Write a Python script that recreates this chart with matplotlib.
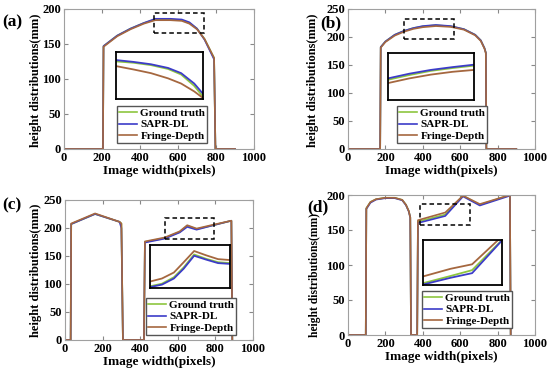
import matplotlib
matplotlib.use('Agg')
import matplotlib.pyplot as plt
from matplotlib.patches import Rectangle

plt.rcParams['font.family'] = ['Liberation Serif', 'DejaVu Serif']
plt.rcParams['font.weight'] = 'bold'

# ---- data ----
labels = ['Ground truth', 'SAPR-DL', 'Fringe-Depth']
colors = ['#8DC63F', '#3C3CC8', '#A5673F']

# (a)
xa = [0, 205, 208, 280, 350, 420, 480, 560, 620, 660, 700, 740, 790, 797, 900]
ya_gt = [0, 0, 147, 162, 172, 180, 185, 185, 184, 180, 172, 157, 130, 0, 0]
ya_sapr = [0, 0, 147, 162, 172, 180, 186, 186, 185, 181, 172, 156, 128, 0, 0]
ya_fd = [0, 0, 146, 161, 171, 179, 184, 184, 183, 179, 171, 157, 130, 0, 0]
za_x = [476, 528, 580, 631, 670, 709, 735]
za_gt = [188.4, 187.6, 186.2, 183.9, 180.6, 173.8, 167.4]
za_sapr = [189.2, 188.1, 186.7, 184.5, 181.4, 175.2, 169.1]
za_fd = [185.6, 183.6, 181.4, 178.3, 175.2, 170.5, 166.6]
box_a = (476, 735, 166, 194)

# (b)
xb = [0, 172, 175, 200, 250, 300, 350, 400, 470, 550, 620, 680, 710, 730, 737, 740, 900]
yb_gt = [0, 0, 182, 192, 204, 211, 216, 219, 221, 219, 214, 204, 194, 180, 172, 0, 0]
yb_sapr = [0, 0, 182, 192, 204, 211, 216, 219.5, 221.5, 219.5, 214, 204, 194, 180, 172, 0, 0]
yb_fd = [0, 0, 181, 191, 202.5, 209.5, 214.5, 217.5, 219.5, 218, 213, 203, 193, 179, 171, 0, 0]
zb_x = [300, 366, 432, 499, 565]
zb_gt = [212.1, 215.6, 218.7, 220.8, 222.6]
zb_sapr = [213.1, 216.6, 219.4, 221.5, 223.3]
zb_fd = [209.6, 213.1, 215.9, 218.0, 219.4]
box_b = (300, 565, 197, 232)

# (c)
xc = [0, 30, 33, 160, 290, 300, 308, 420, 425, 530, 610, 650, 700, 790, 885, 890]
yc_gt = [0, 0, 207, 225, 211, 208, 0, 0, 175, 182, 193, 204, 198, 205, 213, 0]
yc_sapr = [0, 0, 207, 225, 211, 200, 0, 0, 174, 181, 192, 202, 197, 205, 213, 0]
yc_fd = [0, 0, 208, 226, 211, 208, 0, 0, 176, 183, 194, 205, 199, 206, 213, 0]
zc_x = [532, 571, 610, 642, 676, 715, 754, 793]
zc_gt = [181.5, 183.8, 189.5, 198.2, 209.6, 205.8, 202.8, 202.0]
zc_sapr = [180.8, 183.0, 188.4, 197.1, 208.5, 205.1, 202.0, 201.3]
zc_fd = [185.7, 188.4, 193.7, 202.8, 212.7, 208.9, 205.5, 204.7]
box_c = (532, 793, 180, 218)

# (d)
xd = [0, 95, 98, 120, 150, 200, 250, 290, 310, 325, 333, 337, 370, 374, 520, 615, 705, 866, 870]
yd_gt = [0, 0, 181, 190, 194, 196, 196, 193, 186, 177, 168, 0, 0, 162, 172, 199, 186, 200, 0]
yd_sapr = [0, 0, 180, 189, 193.5, 195.5, 195.5, 192.5, 185.5, 176.5, 167.5, 0, 0, 160, 170, 198, 185, 199, 0]
yd_fd = [0, 0, 181, 190, 194, 196, 196, 193, 186, 177, 168, 0, 0, 164, 175, 199, 187, 200, 0]
zd_x = [385, 478, 551, 652]
zd_gt = [158.2, 163.0, 166.9, 187.0]
zd_sapr = [157.3, 161.8, 164.9, 186.7]
zd_fd = [162.7, 167.8, 170.8, 189.4]
box_d = (385, 652, 157, 187)

W, H = 550, 377
fig = plt.figure(figsize=(5.5, 3.77), dpi=100)


def px_axes(x0, x1, y0, y1):
    # pixel box (top-left origin) -> figure axes
    return fig.add_axes([x0 / W, 1 - y1 / H, (x1 - x0) / W, (y1 - y0) / H])


def panel(ax_px, ylim, yticks, x, ys, zx, zys, box, inset_px, leg_px, tag, tag_px, ylab_px, ylab_fs=9):
    ax = px_axes(*ax_px)
    for y, c, lab in zip(ys, colors, labels):
        ax.plot(x, y, color=c, lw=1.2, label=lab)
    ax.set_xlim(0, 1000)
    ax.set_ylim(*ylim)
    ax.set_xticks(range(0, 1001, 200))
    ax.set_yticks(yticks)
    ax.tick_params(direction='in', top=True, right=True, length=3,
                   color='#888888', labelsize=9, pad=2)
    for s in ax.spines.values():
        s.set_color('#A0A0A0')
        s.set_linewidth(0.8)
    ax.set_xlabel('Image width(pixels)', fontsize=9.5, fontweight='bold', labelpad=1)
    ax.set_ylabel('height distributions(mm)', fontsize=ylab_fs, fontweight='bold')
    ax.yaxis.set_label_coords(ylab_px[0] / W, 1 - ylab_px[1] / H, transform=fig.transFigure)
    # dashed zoom box
    ax.add_patch(Rectangle((box[0], box[2]), box[1] - box[0], box[3] - box[2],
                           fill=False, ls=(0, (3, 2)), lw=1.1, color='black', zorder=5))
    # legend
    ax.legend(loc='upper left', bbox_to_anchor=(leg_px[0] / W, 1 - leg_px[1] / H),
              bbox_transform=fig.transFigure, fontsize=8, frameon=True, fancybox=False,
              edgecolor='#555555', framealpha=1, borderpad=0.2, labelspacing=0.15,
              handlelength=1.6, handletextpad=0.3, borderaxespad=0)
    # inset
    ins = px_axes(*inset_px)
    for y, c in zip(zys, colors):
        ins.plot(zx, y, color=c, lw=1.3)
    ins.set_xlim(box[0], box[1])
    ins.set_ylim(box[2], box[3])
    ins.set_xticks([])
    ins.set_yticks([])
    for s in ins.spines.values():
        s.set_color('black')
        s.set_linewidth(1.3)
    fig.text(tag_px[0] / W, 1 - tag_px[1] / H, tag, fontsize=12.5, fontweight='bold',
             ha='left', va='center')


panel((64, 254, 9, 149), (0, 200), range(0, 201, 50), xa, [ya_gt, ya_sapr, ya_fd],
      za_x, [za_gt, za_sapr, za_fd], box_a, (116, 203, 52, 99), (117, 106), '(a)', (2, 22),
      (42, 80))
panel((348, 535, 9, 149), (0, 250), range(0, 251, 50), xb, [yb_gt, yb_sapr, yb_fd],
      zb_x, [zb_gt, zb_sapr, zb_fd], box_b, (388, 474, 53, 100), (397, 106), '(b)', (320, 23),
      (319, 80))
panel((65, 253, 200, 340), (0, 250), range(0, 251, 50), xc, [yc_gt, yc_sapr, yc_fd],
      zc_x, [zc_gt, zc_sapr, zc_fd], box_c, (150, 230, 245, 288), (146, 298), '(c)', (2, 205),
      (42, 270))
panel((348, 535, 195, 335), (0, 200), range(0, 201, 50), xd, [yd_gt, yd_sapr, yd_fd],
      zd_x, [zd_gt, zd_sapr, zd_fd], box_d, (423, 502, 240, 285), (422, 291), '(d)', (307, 207),
      (321, 275), 8.3)

fig.savefig('out.png', dpi=100)
